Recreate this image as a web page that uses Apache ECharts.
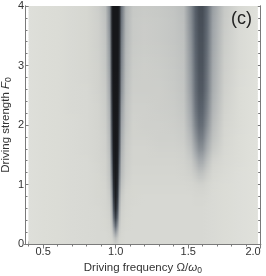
<!DOCTYPE html>
<html><head><meta charset="utf-8">
<script src="https://cdn.jsdelivr.net/npm/echarts@6/dist/echarts.min.js"></script>
<style>html,body{margin:0;padding:0;background:#fff;}#c{width:266px;height:276px;}</style>
</head><body><div id="c"></div>
<script>
// Driving frequency sample columns (Ω/ω0)
const freqs = [0.40,0.50,0.60,0.70,0.80,0.88,0.93,0.96,0.975,0.985,1.00,1.015,1.025,1.04,1.07,1.12,1.20,1.30,1.40,1.47,1.52,1.55,1.575,1.60,1.63,1.67,1.75,1.85,1.98];
// Driving strength rows (F0)
const strengths = [0,0.1,0.2,0.3,0.45,0.6,0.8,1.0,1.2,1.4,1.6,1.8,2.0,2.3,2.6,3.0,3.4,3.7,4.0];
// Lightness (0 = black, 100 = lightest), one row per strength
const shade = [
 [94,92,91,90,89,88,88,87,86,84,82,84,86,87,88,88,88,88,88,88,88,88,88,88,89,90,91,93,95],
 [94,92,91,90,89,88,88,87,85,80,74,80,85,87,88,88,88,88,88,88,88,88,88,88,89,90,91,93,95],
 [94,92,91,90,89,88,88,86,82,70,56,70,82,86,88,88,88,88,88,88,88,88,88,88,89,90,91,93,95],
 [94,92,91,90,89,88,87,85,78,58,38,58,78,85,87,88,88,88,88,88,88,88,88,88,89,90,91,93,95],
 [94,92,91,90,89,88,87,84,72,42,18,42,72,84,87,88,88,88,88,88,88,88,88,88,89,90,91,93,95],
 [94,92,91,90,89,88,86,83,66,30,8,30,66,83,86,88,88,88,88,88,88,88,88,88,89,90,91,93,95],
 [94,92,91,90,89,87,86,81,58,18,4,18,58,80,86,87,88,88,88,88,88,87,87,87,88,90,91,93,95],
 [94,92,91,90,89,87,85,78,50,12,3,12,50,76,84,87,87,87,87,87,86,85,84,84,86,89,91,93,95],
 [94,92,91,90,89,87,84,76,42,8,3,8,42,72,82,86,86,86,86,85,83,79,75,76,81,87,90,93,95],
 [94,92,91,90,89,86,84,75,35,6,2,6,35,70,81,85,85,85,85,84,80,71,63,64,74,84,89,92,95],
 [94,92,91,90,88,86,83,73,28,5,2,5,28,67,80,85,85,84,84,83,75,61,52,53,65,79,88,92,95],
 [94,92,91,90,88,86,83,71,24,4,2,4,24,64,79,84,84,83,83,81,70,54,44,45,58,75,87,92,95],
 [94,92,91,90,88,85,82,69,20,4,2,4,20,61,77,84,83,83,82,80,65,48,38,39,52,72,86,91,95],
 [94,92,91,89,88,85,81,66,16,3,2,3,16,57,76,83,83,82,81,78,60,42,33,34,46,68,84,91,95],
 [94,92,91,89,88,84,80,62,12,3,2,3,12,52,74,82,82,82,80,77,57,39,30,30,42,65,83,91,95],
 [94,92,91,89,87,84,78,58,10,2,2,2,10,48,72,81,82,81,79,76,55,37,28,28,40,63,82,90,95],
 [94,92,91,89,87,83,77,55,8,2,2,2,8,45,70,80,81,80,78,75,53,35,27,27,38,61,81,90,95],
 [94,92,91,89,87,83,76,52,7,2,2,2,7,42,69,80,81,80,78,74,51,34,26,26,37,60,80,90,95],
 [94,92,91,89,87,82,74,50,6,2,2,2,6,40,68,79,80,79,77,73,50,33,25,25,36,58,79,89,95]
];
const xMajor = [0.5,1.0,1.5,2.0];
const xMinor = [0.4,0.6,0.7,0.8,0.9,1.1,1.2,1.3,1.4,1.6,1.7,1.8,1.9];
const yMajor = [0,1,2,3,4];
const yMinor = [0.2,0.4,0.6,0.8,1.2,1.4,1.6,1.8,2.2,2.4,2.6,2.8,3.2,3.4,3.6,3.8];

const ramp = [[0,[18,18,20]],[15,[48,54,62]],[35,[92,100,110]],[60,[158,163,167]],[85,[211,212,207]],[100,[230,231,225]]];
function toColor(L){
  for(let k=1;k<ramp.length;k++){
    if(L<=ramp[k][0]){
      const a=ramp[k-1],b=ramp[k],t=(L-a[0])/(b[0]-a[0]);
      const c=a[1].map((v,j)=>Math.round(v+(b[1][j]-v)*t));
      return 'rgb('+c.join(',')+')';
    }
  }
  return 'rgb('+ramp[ramp.length-1][1].join(',')+')';
}
const frameColor='#7a7a7a';
const labelColor='#333';
const font='Liberation Sans';
function tickAxis(pos, vals, len, labels, extra){
  return Object.assign({
    type:'value', position:pos,
    axisLine:{show:true, lineStyle:{color:frameColor, width:1}},
    axisTick:{show:true, inside:true, length:len, customValues:vals, lineStyle:{color:frameColor}},
    axisLabel:{show:labels, customValues:vals, color:labelColor, fontFamily:font, fontSize:10, margin:4},
    splitLine:{show:false}
  }, extra);
}
const rich={n:{fontFamily:font,fontSize:11.5,color:labelColor},i:{fontFamily:font,fontSize:11.5,fontStyle:'italic',color:labelColor},s:{fontFamily:font,fontSize:8.5,color:labelColor,padding:[6,0,0,0]}};
const xs=[
  tickAxis('bottom', xMajor, 4.5, true, {min:0.375,max:2.0, axisLabel:{show:true,customValues:xMajor,color:labelColor,fontFamily:font,fontSize:11,margin:2,alignMaxLabel:'right',formatter:v=>v.toFixed(1)},
    name:'{n|Driving frequency Ω/}{i|ω}{s|0}', nameLocation:'middle', nameGap:16, nameMoveOverlap:false, nameTextStyle:{rich:rich}}),
  tickAxis('bottom', xMinor, 2.5, false, {min:0.375,max:2.0}),
  tickAxis('top', xMajor, 4.5, false, {min:0.375,max:2.0}),
  tickAxis('top', xMinor, 2.5, false, {min:0.375,max:2.0})
];
const ys=[
  tickAxis('left', yMajor, 4.5, true, {min:0,max:4, axisLabel:{show:true,customValues:yMajor,color:labelColor,fontFamily:font,fontSize:11,margin:1},
    name:'{n|Driving strength }{i|F}{s|0}', nameLocation:'middle', nameGap:12, nameRotate:90, nameMoveOverlap:false, nameTextStyle:{rich:rich}}),
  tickAxis('left', yMinor, 2.5, false, {min:0,max:4}),
  tickAxis('right', yMajor, 4.5, false, {min:0,max:4}),
  tickAxis('right', yMinor, 2.5, false, {min:0,max:4})
];
function mix(a,b,t){ return a+(b-a)*t; }
const SUB=8;
const chart=echarts.init(document.getElementById('c'),null,{renderer:'canvas'});
chart.setOption({
  animation:false,
  backgroundColor:'#fff',
  grid:{left:25, top:6, width:235.7, height:238, containLabel:false, outerBoundsMode:'none'},
  graphic:[{type:'text', left:231, top:10, z:100, style:{text:'(c)', fontSize:18, fontFamily:font, fontWeight:'normal', fill:'#222'}}],
  xAxis:xs, yAxis:ys,
  series:[{
    type:'custom', xAxisIndex:0, yAxisIndex:0, clip:true, z:1,
    data:strengths.slice(0,-1).map((f,i)=>[i,f]),
    renderItem:function(params, api){
      const i=api.value(0);
      const fA=strengths[i], fB=strengths[i+1];
      const x0=freqs[0], x1=freqs[freqs.length-1];
      const children=[];
      for(let s=0;s<SUB;s++){
        const t=(s+0.5)/SUB;
        const yLo=mix(fA,fB,s/SUB), yHi=mix(fA,fB,(s+1)/SUB);
        const p0=api.coord([x0, yHi]);
        const p1=api.coord([x1, yLo]);
        const stops=freqs.map((fx,j)=>({offset:(fx-x0)/(x1-x0), color:toColor(mix(shade[i][j],shade[i+1][j],t))}));
        children.push({type:'rect', shape:{x:p0[0], y:p0[1]-0.4, width:p1[0]-p0[0], height:p1[1]-p0[1]+0.8},
          style:{fill:new echarts.graphic.LinearGradient(0,0,1,0,stops)}});
      }
      return {type:'group', children:children};
    }
  }]
});
</script></body></html>
